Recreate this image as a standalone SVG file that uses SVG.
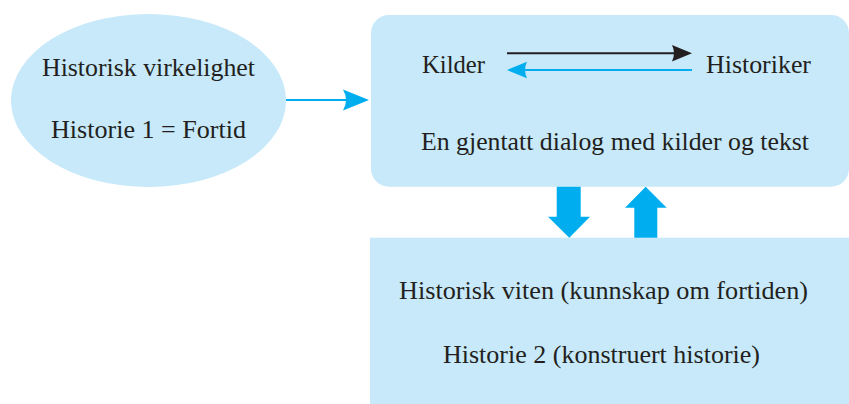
<svg xmlns="http://www.w3.org/2000/svg" width="849" height="404" viewBox="0 0 849 404">
  <style>
    .node { fill: #C7E9F9; }
    text { font-family: 'Liberation Serif', 'DejaVu Serif', serif; font-size: 25px; fill: #231F20; text-anchor: middle; }
    .blue { fill: #00AEEF; }
    .bline { stroke: #00AEEF; stroke-width: 2; fill: none; }
    .kline { stroke: #231F20; stroke-width: 2; fill: none; }
  </style>
  <rect width="849" height="404" fill="#FFFFFF"/>
  <g id="node-virkelighet">
    <ellipse class="node" cx="148.5" cy="100.5" rx="137.5" ry="86.5"/>
    <text font-family="Liberation Serif, serif" x="148.5" y="76" textLength="213" lengthAdjust="spacingAndGlyphs">Historisk virkelighet</text>
    <text font-family="Liberation Serif, serif" x="148.5" y="138" textLength="195" lengthAdjust="spacingAndGlyphs">Historie 1 = Fortid</text>
  </g>
  <g id="node-dialog">
    <rect class="node" x="371" y="15" width="478" height="171.7" rx="18" ry="18"/>
    <text font-family="Liberation Serif, serif" x="453.5" y="73" textLength="63" lengthAdjust="spacingAndGlyphs">Kilder</text>
    <text font-family="Liberation Serif, serif" x="758.5" y="73" textLength="105" lengthAdjust="spacingAndGlyphs">Historiker</text>
    <text font-family="Liberation Serif, serif" x="615" y="150" textLength="388" lengthAdjust="spacingAndGlyphs">En gjentatt dialog med kilder og tekst</text>
  </g>
  <g id="node-viten">
    <rect class="node" x="370" y="237.7" width="479" height="166.3"/>
    <text font-family="Liberation Serif, serif" x="603.5" y="299" textLength="409" lengthAdjust="spacingAndGlyphs">Historisk viten (kunnskap om fortiden)</text>
    <text font-family="Liberation Serif, serif" x="601.5" y="363" textLength="317" lengthAdjust="spacingAndGlyphs">Historie 2 (konstruert historie)</text>
  </g>
  <g id="connectors">
    <line class="bline" x1="286" y1="100" x2="350" y2="100"/>
    <path class="blue" d="M369,100 L343,89.5 Q349,100 343,110.5 Z"/>
    <line class="kline" x1="507" y1="53.3" x2="678" y2="53.3"/>
    <path fill="#231F20" d="M692,53.3 L672,45 Q676,53.3 672,61.6 Z"/>
    <line class="bline" x1="521" y1="70" x2="692" y2="70"/>
    <path class="blue" d="M507,70 L527,61.7 Q523,70 527,78.3 Z"/>
    <path class="blue" d="M556.7,186.7 L580.7,186.7 L580.7,216.7 L590,216.7 L569.3,237.7 L548,216.7 L556.7,216.7 Z"/>
    <path class="blue" d="M634.3,237.7 L657.3,237.7 L657.3,207.7 L666.7,207.7 L645.7,186.7 L625,207.7 L634.3,207.7 Z"/>
  </g>
</svg>
